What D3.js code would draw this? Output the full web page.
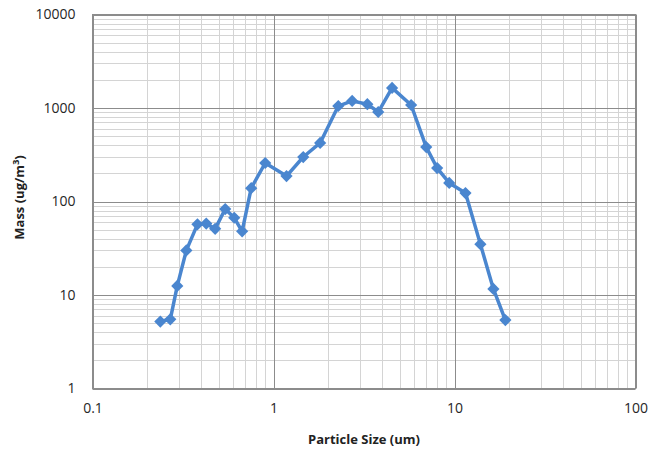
<!DOCTYPE html>
<html>
<head>
<meta charset="utf-8">
<script src="https://cdn.jsdelivr.net/npm/d3@7"></script>
<style>
  html, body { margin: 0; padding: 0; background: #fff; }
  svg { display: block; }
  text { font-family: "Open Sans", "Noto Sans", sans-serif; fill: #222; }
</style>
</head>
<body>
<svg id="chart" width="666" height="454"></svg>
<script>
// Particle size distribution (mass per size bin)
const particleSize = [0.237, 0.269, 0.294, 0.33, 0.38, 0.425, 0.476, 0.541, 0.607, 0.671,
  0.753, 0.9, 1.18, 1.46, 1.81, 2.28, 2.72, 3.3, 3.79, 4.52,
  5.76, 6.98, 8.02, 9.35, 11.5, 13.9, 16.4, 19.1];
const mass = [5.2, 5.5, 12.5, 30, 57, 58, 51, 83, 67, 48,
  139, 258, 187, 299, 423, 1050, 1190, 1100, 906, 1640,
  1077, 382, 228, 158, 123, 35, 11.6, 5.4];
const xTickLabels = ["0.1", "1", "10", "100"];
const yTickLabels = ["1", "10", "100", "1000", "10000"];

const svg = d3.select("#chart");
const plotLeft = 92.5, plotRight = 635.5, plotTop = 14.5, plotBottom = 388.5;

const x = d3.scaleLog().domain([0.1, 100]).range([plotLeft, plotRight]);
const y = d3.scaleLog().domain([1, 10000]).range([plotBottom, plotTop]);

// minor and major gridlines
const minorX = [], minorY = [];
for (let d = 0.1; d < 100; d *= 10) for (let k = 2; k <= 9; k++) minorX.push(d * k);
for (let d = 1; d < 10000; d *= 10) for (let k = 2; k <= 9; k++) minorY.push(d * k);

const grid = svg.append("g");
grid.selectAll(".mx").data(minorX).join("line")
  .attr("x1", d => Math.round(x(d)) + 0.5).attr("x2", d => Math.round(x(d)) + 0.5)
  .attr("y1", plotTop).attr("y2", plotBottom)
  .attr("stroke", "#d4d4d4").attr("stroke-width", 1);
grid.selectAll(".my").data(minorY).join("line")
  .attr("y1", d => Math.round(y(d)) + 0.5).attr("y2", d => Math.round(y(d)) + 0.5)
  .attr("x1", plotLeft).attr("x2", plotRight)
  .attr("stroke", "#d4d4d4").attr("stroke-width", 1);
grid.selectAll(".Mx").data(xTickLabels.map(Number)).join("line")
  .attr("x1", d => Math.round(x(d)) + 0.5).attr("x2", d => Math.round(x(d)) + 0.5)
  .attr("y1", plotTop).attr("y2", plotBottom)
  .attr("stroke", "#8c8c8c").attr("stroke-width", 1);
grid.selectAll(".My").data(yTickLabels.map(Number)).join("line")
  .attr("y1", d => Math.round(y(d)) + 0.5).attr("y2", d => Math.round(y(d)) + 0.5)
  .attr("x1", plotLeft).attr("x2", plotRight)
  .attr("stroke", "#8c8c8c").attr("stroke-width", 1);

// axes
const xAxis = d3.axisBottom(x).tickValues(xTickLabels.map(Number))
  .tickFormat((d, i) => xTickLabels[i]).tickSize(0).tickPadding(15);
const yAxis = d3.axisLeft(y).tickValues(yTickLabels.map(Number))
  .tickFormat((d, i) => yTickLabels[i]).tickSize(0).tickPadding(17);

const gx = svg.append("g").attr("transform", `translate(0,${plotBottom})`).call(xAxis);
const gy = svg.append("g").attr("transform", `translate(${plotLeft},0)`).call(yAxis);
[gx, gy].forEach(g => {
  g.select(".domain").remove();
  g.selectAll("text").style("font-size", "14px").style("fill", "#262626")
    .style("font-family", "'Open Sans', sans-serif");
});

// plot border
svg.append("rect").attr("x", plotLeft).attr("y", plotTop)
  .attr("width", plotRight - plotLeft).attr("height", plotBottom - plotTop)
  .attr("fill", "none").attr("stroke", "#8c8c8c").attr("stroke-width", 1);

// axis titles
svg.append("text").attr("x", (plotLeft + plotRight) / 2).attr("y", 444)
  .attr("text-anchor", "middle").style("font-size", "13px").style("font-weight", "bold")
  .text("Particle Size (um)");

const yt = svg.append("text")
  .attr("transform", `translate(24,${(plotTop + plotBottom) / 2 - 4}) rotate(-90)`)
  .attr("text-anchor", "middle").style("font-size", "13px").style("font-weight", "bold");
yt.append("tspan").text("Mass  (ug/m");
yt.append("tspan").attr("dy", -5).style("font-size", "9px").text("3");
yt.append("tspan").attr("dy", 5).text(")");

// series
const data = particleSize.map((v, i) => ({ x: v, y: mass[i] }));
const color = "#4a86cf";
svg.append("path").datum(data)
  .attr("d", d3.line().x(d => x(d.x)).y(d => y(d.y)))
  .attr("fill", "none").attr("stroke", color).attr("stroke-width", 3.5)
  .attr("stroke-linejoin", "round");

svg.selectAll(".pt").data(data).join("path")
  .attr("transform", d => `translate(${x(d.x)},${y(d.y)})`)
  .attr("d", d3.symbol(d3.symbolDiamond2, 95))
  .attr("fill", color);
</script>
</body>
</html>
